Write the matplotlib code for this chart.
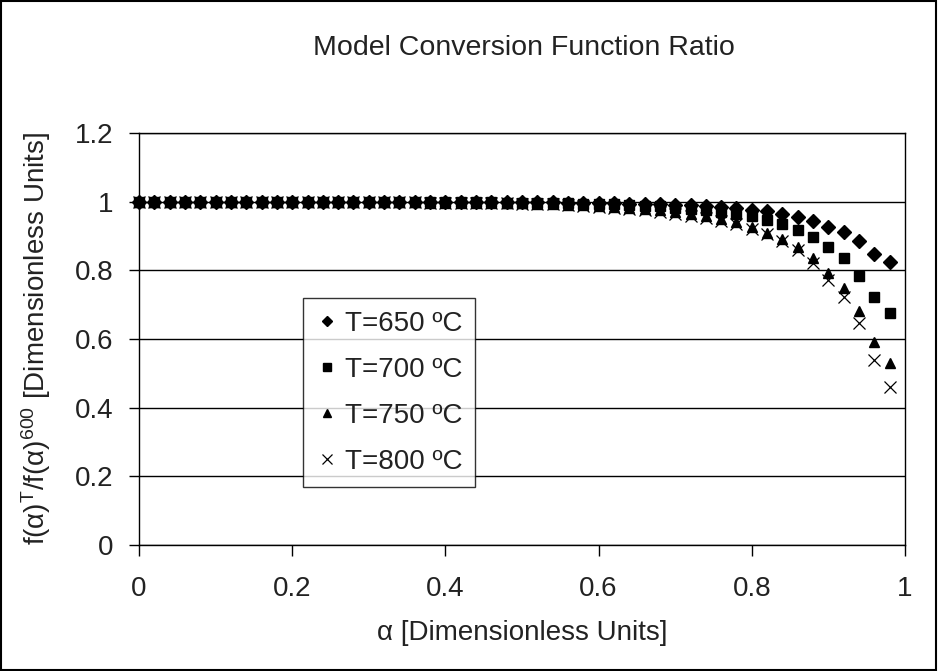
import matplotlib
matplotlib.use("Agg")
import matplotlib.pyplot as plt
from matplotlib.patches import Rectangle

plt.rcParams['font.family'] = ['Liberation Sans', 'DejaVu Sans']
plt.rcParams['mathtext.fontset'] = 'custom'
plt.rcParams['mathtext.rm'] = 'Liberation Sans'
plt.rcParams['mathtext.it'] = 'Liberation Sans'

alpha = [0.00, 0.02, 0.04, 0.06, 0.08, 0.10, 0.12, 0.14, 0.16, 0.18,
         0.20, 0.22, 0.24, 0.26, 0.28, 0.30, 0.32, 0.34, 0.36, 0.38,
         0.40, 0.42, 0.44, 0.46, 0.48, 0.50, 0.52, 0.54, 0.56, 0.58,
         0.60, 0.62, 0.64, 0.66, 0.68, 0.70, 0.72, 0.74, 0.76, 0.78,
         0.80, 0.82, 0.84, 0.86, 0.88, 0.90, 0.92, 0.94, 0.96, 0.98]

t650 = [1.000, 1.000, 1.000, 1.000, 1.000, 1.000, 1.000, 1.000, 1.000, 1.000,
        1.000, 1.000, 1.000, 0.999, 0.999, 0.999, 0.999, 0.999, 0.999, 0.999,
        0.999, 0.999, 0.999, 0.998, 0.998, 0.998, 0.998, 0.998, 0.997, 0.997,
        0.996, 0.995, 0.994, 0.993, 0.992, 0.991, 0.989, 0.987, 0.985, 0.981,
        0.977, 0.972, 0.965, 0.956, 0.944, 0.926, 0.912, 0.885, 0.848, 0.824]

t700 = [1.000, 1.000, 1.000, 1.000, 1.000, 1.000, 1.000, 1.000, 1.000, 1.000,
        0.999, 0.999, 0.999, 0.999, 0.999, 0.999, 0.999, 0.999, 0.999, 0.998,
        0.998, 0.998, 0.998, 0.998, 0.997, 0.997, 0.996, 0.996, 0.995, 0.994,
        0.993, 0.992, 0.990, 0.988, 0.986, 0.983, 0.980, 0.976, 0.971, 0.965,
        0.957, 0.947, 0.935, 0.918, 0.897, 0.868, 0.836, 0.784, 0.722, 0.676]

t750 = [1.000, 1.000, 1.000, 1.000, 1.000, 1.000, 1.000, 0.999, 0.999, 0.999,
        0.999, 0.999, 0.999, 0.999, 0.998, 0.998, 0.998, 0.998, 0.998, 0.997,
        0.997, 0.997, 0.996, 0.996, 0.995, 0.995, 0.994, 0.993, 0.991, 0.989,
        0.987, 0.985, 0.982, 0.979, 0.975, 0.970, 0.965, 0.958, 0.950, 0.940,
        0.926, 0.910, 0.892, 0.868, 0.836, 0.792, 0.750, 0.682, 0.590, 0.530]

t800 = [1.000, 1.000, 1.000, 1.000, 0.999, 0.999, 0.999, 0.999, 0.999, 0.999,
        0.999, 0.999, 0.998, 0.998, 0.998, 0.998, 0.998, 0.998, 0.998, 0.997,
        0.997, 0.997, 0.996, 0.996, 0.995, 0.994, 0.993, 0.992, 0.990, 0.988,
        0.985, 0.982, 0.979, 0.975, 0.970, 0.965, 0.959, 0.952, 0.944, 0.934,
        0.921, 0.905, 0.885, 0.860, 0.821, 0.772, 0.722, 0.646, 0.539, 0.460]

labels = ['T=650 ºC', 'T=700 ºC', 'T=750 ºC', 'T=800 ºC']
xticks = [0, 0.2, 0.4, 0.6, 0.8, 1]
xticklabels = ['0', '0.2', '0.4', '0.6', '0.8', '1']
yticks = [0, 0.2, 0.4, 0.6, 0.8, 1, 1.2]
yticklabels = ['0', '0.2', '0.4', '0.6', '0.8', '1', '1.2']

TXT = '#222222'
FS = 20

W, H = 938, 671
fig = plt.figure(figsize=(W / 100, H / 100), dpi=100)
ax = fig.add_axes([139 / W, (H - 545) / H, (905 - 139) / W, (545 - 133) / H])

ax.plot(alpha, t650, 'D', color='black', ms=7, mec='black', label=labels[0], clip_on=False)
ax.plot(alpha, t700, 's', color='black', ms=7, mec='black', label=labels[1], clip_on=False)
ax.plot(alpha, t750, '^', color='black', ms=7.5, mec='black', label=labels[2], clip_on=False)
ax.plot(alpha, t800, 'x', color='black', ms=9, mew=0.9, label=labels[3], clip_on=False)

ax.set_xlim(0, 1)
ax.set_ylim(0, 1.2)
ax.set_xticks(xticks)
ax.set_xticklabels(xticklabels)
ax.set_yticks(yticks)
ax.set_yticklabels(yticklabels)
ax.tick_params(axis='both', direction='out', width=1, labelsize=FS,
               colors='black', labelcolor=TXT)
ax.tick_params(axis='x', length=8, pad=14)
ax.tick_params(axis='y', length=7.5, pad=11)
ax.yaxis.grid(True, color='black', linewidth=1)
ax.set_axisbelow(True)
for s in ax.spines.values():
    s.set_linewidth(1)
    s.set_color('black')

fig.text(524 / W, 1 - 55 / H, 'Model Conversion Function Ratio', fontsize=20.5,
         color=TXT, ha='center', va='baseline')
fig.text(522 / W, 1 - 640 / H, 'α [Dimensionless Units]', fontsize=FS,
         color=TXT, ha='center', va='baseline')
fig.text(45 / W, 1 - 338 / H,
         'f(α)$^{\\mathrm{T}}$/f(α)$^{\\mathrm{600}}$ [Dimensionless Units]',
         fontsize=FS, color=TXT, ha='center', va='baseline', rotation=90,
         rotation_mode='anchor')

leg = ax.legend(loc='upper left', bbox_to_anchor=(0.214, 0.5995), borderaxespad=0,
                fontsize=FS, frameon=True, fancybox=False, edgecolor='black',
                labelspacing=0.72, handlelength=0.8, handletextpad=0.25,
                borderpad=0.45, markerscale=0.8)
leg.get_frame().set_linewidth(1)
for t in leg.get_texts():
    t.set_color(TXT)

fig.patches.append(Rectangle((0.001, 0.001), 0.997, 0.997, transform=fig.transFigure,
                             fill=False, edgecolor='black', linewidth=1.5))

fig.savefig('out.png', dpi=100)
